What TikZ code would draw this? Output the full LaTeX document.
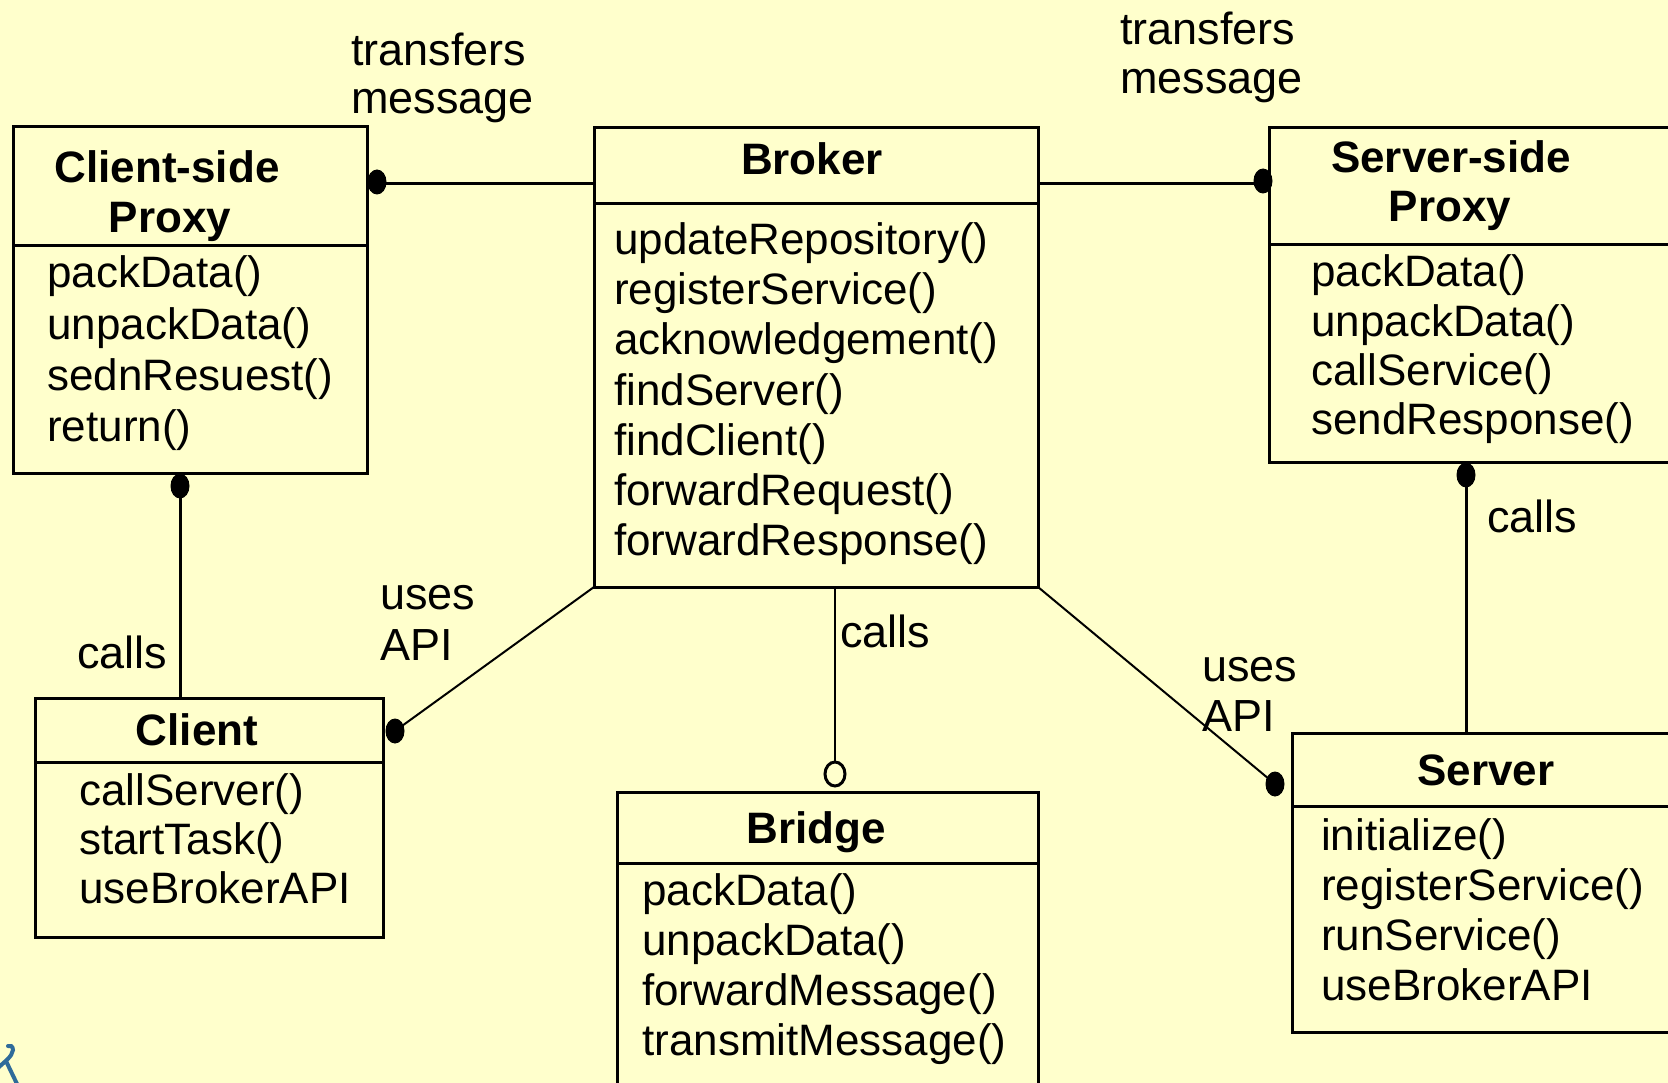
\documentclass[tikz,border=0pt]{standalone}
\usepackage{fontspec}
\setmainfont{Liberation Sans}
\usetikzlibrary{shapes.geometric}
\definecolor{paper}{HTML}{FFFFCC}
\definecolor{inkblue}{HTML}{2F6B9A}
\tikzset{
  classbox/.style={rectangle, draw=black, line width=3pt, inner sep=0pt, outer sep=0pt, anchor=north west},
  rule/.style={draw=black, line width=3pt},
  title/.style={font=\fontsize{44}{50}\selectfont\bfseries, anchor=base, inner sep=0pt},
  method/.style={font=\fontsize{44}{50}\selectfont, anchor=base west, inner sep=0pt},
  lbl/.style={font=\fontsize{45}{50}\selectfont, anchor=base west, inner sep=0pt},
  thick conn/.style={draw=black, line width=3pt},
  thin conn/.style={draw=black, line width=2pt},
  dot/.style={ellipse, fill=black, minimum width=19pt, minimum height=25pt, inner sep=0pt, outer sep=0pt},
  ring/.style={ellipse, draw=black, fill=paper, line width=3pt, minimum width=20pt, minimum height=24pt, inner sep=0pt, outer sep=0pt}
}
% name, left x, first baseline, line step, list of operations
\newcommand\methodlist[5]{%
  \foreach \m [count=\k] in {#5} {\node[method] (#1-m\k) at (#2, {#3+(\k-1)*#4}) {\m};}}
\begin{document}
\begin{tikzpicture}[x=1pt, y=-1pt]
\useasboundingbox (0,0) rectangle (1668,1083);
\fill[paper] (0,0) rectangle (1668,1083);
\clip (0,0) rectangle (1668,1083);

% class boxes
\node[classbox, minimum width=354pt, minimum height=346pt] (csp) at (13,127) {};
\node[classbox, minimum width=444pt, minimum height=459pt] (brk) at (594,128) {};
\node[classbox, minimum width=431pt, minimum height=334pt] (ssp) at (1269,128) {};
\node[classbox, minimum width=348pt, minimum height=239pt] (cli) at (35,698) {};
\node[classbox, minimum width=421pt, minimum height=328pt] (brg) at (617,792) {};
\node[classbox, minimum width=408pt, minimum height=299pt] (srv) at (1292,733) {};

% compartment rules
\draw[rule] (csp.west |- 0,246) -- (csp.east |- 0,246);
\draw[rule] (brk.west |- 0,204) -- (brk.east |- 0,204);
\draw[rule] (ssp.west |- 0,245) -- (ssp.east |- 0,245);
\draw[rule] (cli.west |- 0,762) -- (cli.east |- 0,762);
\draw[rule] (brg.west |- 0,863) -- (brg.east |- 0,863);
\draw[rule] (srv.west |- 0,806) -- (srv.east |- 0,806);

% class names
\node[title] (csp-t1) at (167,183) {Client-side};
\node[title] (csp-t2) at (170,233) {Proxy};
\node[title] (brk-t) at (812,175) {Broker};
\node[title] (ssp-t1) at (1451,173) {Server-side};
\node[title] (ssp-t2) at (1450,222) {Proxy};
\node[title] (cli-t) at (197,745) {Client};
\node[title] (brg-t) at (816,843) {Bridge};
\node[title] (srv-t) at (1486,785) {Server};

% operations
\methodlist{csp}{47}{288}{51}{packData(),unpackData(),sednResuest(),return()}
\methodlist{brk}{614}{255}{50}{updateRepository(),registerService(),acknowledgement(),findServer(),findClient(),forwardRequest(),forwardResponse()}
\methodlist{ssp}{1311}{287}{49.3}{packData(),unpackData(),callService(),sendResponse()}
\methodlist{cli}{79}{805}{49}{callServer(),startTask(),useBrokerAPI}
\methodlist{brg}{642}{905}{50}{packData(),unpackData(),forwardMessage(),transmitMessage()}
\methodlist{srv}{1321}{850}{50}{initialize(),registerService(),runService(),useBrokerAPI}

% association ends
\node[dot] (d-csp-r) at (377,182) {};
\node[dot] (d-ssp-l) at (1263,181) {};
\node[dot] (d-csp-b) at (180,486) {};
\node[dot] (d-ssp-b) at (1466,475) {};
\node[dot] (d-cli) at (395,731) {};
\node[dot] (d-srv) at (1275,784) {};
\node[ring] (r-brg) at (835,774) {};

% associations
\draw[thick conn] (d-csp-r.center |- 0,184) -- (brk.west |- 0,184);
\draw[thick conn] (brk.east |- 0,184) -- (d-ssp-l.center |- 0,184);
\draw[thick conn] (d-csp-b.center) -- (d-csp-b.center |- cli.north);
\draw[thick conn] (d-ssp-b.center) -- (d-ssp-b.center |- srv.north);
\draw[thin conn] (brk.south west) -- (d-cli.center);
\draw[thin conn] (brk.south east) -- (d-srv.center);
\draw[thin conn] (r-brg.north |- brk.south) -- (r-brg.north);

% association labels
\node[lbl] (l-tm1a) at (351,66) {transfers};
\node[lbl] (l-tm1b) at (351,114) {message};
\node[lbl] (l-tm2a) at (1120,45) {transfers};
\node[lbl] (l-tm2b) at (1120,94) {message};
\node[lbl] (l-calls1) at (77,668) {calls};
\node[lbl] (l-api1a) at (380,609) {uses};
\node[lbl] (l-api1b) at (380,660) {API};
\node[lbl] (l-calls2) at (840,647) {calls};
\node[lbl] (l-api2a) at (1202,681) {uses};
\node[lbl] (l-api2b) at (1202,731) {API};
\node[lbl] (l-calls3) at (1487,532) {calls};

% small blue mark in the lower left corner
\draw[inkblue, line width=4pt, line cap=round] (-3,1069) .. controls (5,1061) and (12,1057) .. (13,1050) .. controls (13,1046) and (10,1045) .. (8,1046);
\draw[inkblue, line width=4pt] (6,1061) -- (18,1086);
\end{tikzpicture}
\end{document}
